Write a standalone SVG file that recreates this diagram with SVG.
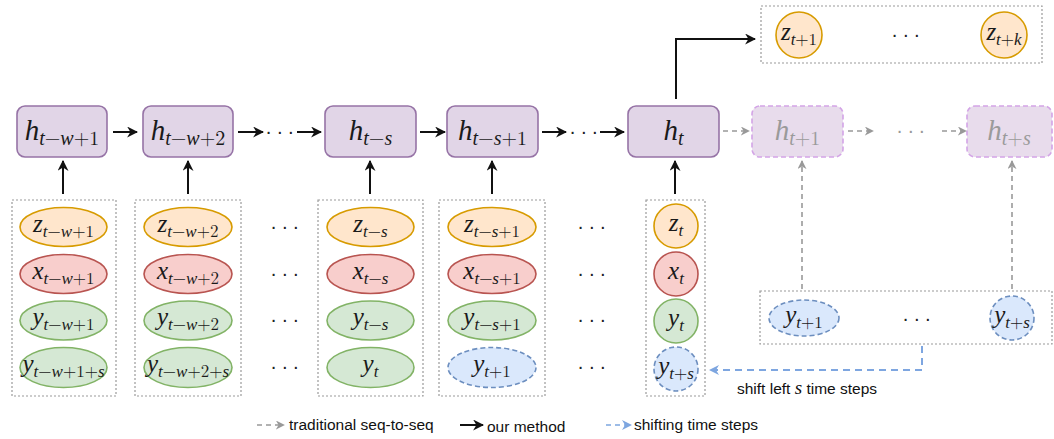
<svg xmlns="http://www.w3.org/2000/svg" width="1054" height="439" viewBox="0 0 1054 439">
<style>
.m{font-family:"Liberation Serif","Times New Roman",serif;font-style:italic;fill:#1a1a1a;text-anchor:middle}
.r{font-family:"Latin Modern Math","Liberation Serif",serif;font-style:normal}
.hb{fill:#e1d5e7;stroke:#9673a6;stroke-width:1.6}
.hd{fill:#e8dcec;stroke:#d3a4e6;stroke-width:1.6;stroke-dasharray:5 3}
.z{fill:#ffe6cc;stroke:#d79b00;stroke-width:1.6}
.x{fill:#f8cecc;stroke:#b85450;stroke-width:1.6}
.y{fill:#d5e8d4;stroke:#82b366;stroke-width:1.6}
.b{fill:#dae8fc;stroke:#6c8ebf;stroke-width:1.6;stroke-dasharray:5 3}
.ct{fill:none;stroke:#9a9a9a;stroke-width:1.2;stroke-dasharray:2 2}
.ba{fill:none;stroke:#111;stroke-width:2;marker-end:url(#ab)}
.ga{fill:none;stroke:#999;stroke-width:1.6;stroke-dasharray:5 4;marker-end:url(#ag)}
.bl{fill:none;stroke:#7ea6e0;stroke-width:2;stroke-dasharray:7 5;marker-end:url(#abl)}
.dots{font-family:"Liberation Sans",Arial,sans-serif;font-size:20px;letter-spacing:4.5px;fill:#222;text-anchor:middle}
.lg{font-family:"Liberation Sans",Arial,sans-serif;font-size:15.5px;fill:#111}
.hm{font-size:29px}
.hs{font-size:20px}
.em{font-size:25px}
.es{font-size:17px}
</style>
<defs>
<marker id="ab" viewBox="0 0 10 10" refX="9" refY="5" markerWidth="11" markerHeight="11" markerUnits="userSpaceOnUse" orient="auto"><path d="M0,0 L10,5 L0,10 L3,5 z" fill="#111"/></marker>
<marker id="ag" viewBox="0 0 10 10" refX="9" refY="5" markerWidth="9" markerHeight="9" markerUnits="userSpaceOnUse" orient="auto"><path d="M0,0 L10,5 L0,10 L3,5 z" fill="#999"/></marker>
<marker id="abl" viewBox="0 0 10 10" refX="9" refY="5" markerWidth="10" markerHeight="10" markerUnits="userSpaceOnUse" orient="auto"><path d="M0,0 L10,5 L0,10 L3,5 z" fill="#7ea6e0"/></marker>
</defs>

<!-- hidden-state nodes -->
<g id="h1"><rect class="hb" x="17" y="106" width="90" height="51" rx="8"/><text class="m" x="62" y="140"><tspan class="hm">h</tspan><tspan class="hs" dy="5">t<tspan class="r">−</tspan>w<tspan class="r">+1</tspan></tspan></text></g>
<g id="h2"><rect class="hb" x="143" y="106" width="90" height="51" rx="8"/><text class="m" x="188" y="140"><tspan class="hm">h</tspan><tspan class="hs" dy="5">t<tspan class="r">−</tspan>w<tspan class="r">+2</tspan></tspan></text></g>
<g id="h3"><rect class="hb" x="325" y="106" width="91" height="51" rx="8"/><text class="m" x="370.5" y="140"><tspan class="hm">h</tspan><tspan class="hs" dy="5">t<tspan class="r">−</tspan>s</tspan></text></g>
<g id="h4"><rect class="hb" x="447" y="106" width="91" height="51" rx="8"/><text class="m" x="492.5" y="140"><tspan class="hm">h</tspan><tspan class="hs" dy="5">t<tspan class="r">−</tspan>s<tspan class="r">+1</tspan></tspan></text></g>
<g id="h5"><rect class="hb" x="628" y="106" width="91" height="51" rx="8"/><text class="m" x="673.5" y="140"><tspan class="hm">h</tspan><tspan class="hs" dy="5">t</tspan></text></g>
<g id="h6"><rect class="hd" x="752" y="106" width="91" height="51" rx="8"/><text class="m" x="797.5" y="140" style="fill:#9a9a9a"><tspan class="hm">h</tspan><tspan class="hs" dy="5">t<tspan class="r">+1</tspan></tspan></text></g>
<g id="h7"><rect class="hd" x="967" y="106" width="85" height="51" rx="8"/><text class="m" x="1009" y="140" style="fill:#9a9a9a"><tspan class="hm">h</tspan><tspan class="hs" dy="5">t<tspan class="r">+</tspan>s</tspan></text></g>

<!-- output nodes -->
<g id="out">
<rect class="ct" x="761" y="6" width="281" height="57"/>
<circle class="z" cx="799" cy="35" r="23"/>
<text class="m" x="799" y="40"><tspan class="em">z</tspan><tspan class="es" dy="5">t<tspan class="r">+1</tspan></tspan></text>
<text class="dots" x="908" y="41">···</text>
<circle class="z" cx="1004" cy="35" r="23"/>
<text class="m" x="1004" y="40"><tspan class="em">z</tspan><tspan class="es" dy="5">t<tspan class="r">+</tspan>k</tspan></text>
</g>

<!-- input columns -->
<g id="col1">
<rect class="ct" x="12" y="200" width="104" height="196"/>
<ellipse class="z" cx="63.5" cy="227" rx="43.5" ry="19.5"/>
<text class="m" x="63.5" y="232"><tspan class="em">z</tspan><tspan class="es" dy="5">t<tspan class="r">−</tspan>w<tspan class="r">+1</tspan></tspan></text>
<ellipse class="x" cx="63.5" cy="274" rx="43.5" ry="19.5"/>
<text class="m" x="63.5" y="279"><tspan class="em">x</tspan><tspan class="es" dy="5">t<tspan class="r">−</tspan>w<tspan class="r">+1</tspan></tspan></text>
<ellipse class="y" cx="63.5" cy="320.5" rx="43.5" ry="19.5"/>
<text class="m" x="63.5" y="325"><tspan class="em">y</tspan><tspan class="es" dy="5">t<tspan class="r">−</tspan>w<tspan class="r">+1</tspan></tspan></text>
<ellipse class="y" cx="63.5" cy="367.5" rx="43.5" ry="20"/>
<text class="m" x="63.5" y="372"><tspan class="em">y</tspan><tspan class="es" dy="5">t<tspan class="r">−</tspan>w<tspan class="r">+1+</tspan>s</tspan></text>
</g>
<g id="col2">
<rect class="ct" x="135" y="200" width="106" height="196"/>
<ellipse class="z" cx="188" cy="227" rx="44" ry="19.5"/>
<text class="m" x="188" y="232"><tspan class="em">z</tspan><tspan class="es" dy="5">t<tspan class="r">−</tspan>w<tspan class="r">+2</tspan></tspan></text>
<ellipse class="x" cx="188" cy="274" rx="44" ry="19.5"/>
<text class="m" x="188" y="279"><tspan class="em">x</tspan><tspan class="es" dy="5">t<tspan class="r">−</tspan>w<tspan class="r">+2</tspan></tspan></text>
<ellipse class="y" cx="188" cy="320.5" rx="44" ry="19.5"/>
<text class="m" x="188" y="325"><tspan class="em">y</tspan><tspan class="es" dy="5">t<tspan class="r">−</tspan>w<tspan class="r">+2</tspan></tspan></text>
<ellipse class="y" cx="188" cy="367.5" rx="44" ry="20"/>
<text class="m" x="188" y="372"><tspan class="em">y</tspan><tspan class="es" dy="5">t<tspan class="r">−</tspan>w<tspan class="r">+2+</tspan>s</tspan></text>
</g>
<g id="col3">
<rect class="ct" x="318" y="200" width="105" height="196"/>
<ellipse class="z" cx="370.5" cy="227" rx="43.5" ry="19.5"/>
<text class="m" x="370.5" y="232"><tspan class="em">z</tspan><tspan class="es" dy="5">t<tspan class="r">−</tspan>s</tspan></text>
<ellipse class="x" cx="370.5" cy="274" rx="43.5" ry="19.5"/>
<text class="m" x="370.5" y="279"><tspan class="em">x</tspan><tspan class="es" dy="5">t<tspan class="r">−</tspan>s</tspan></text>
<ellipse class="y" cx="370.5" cy="320.5" rx="43.5" ry="19.5"/>
<text class="m" x="370.5" y="325"><tspan class="em">y</tspan><tspan class="es" dy="5">t<tspan class="r">−</tspan>s</tspan></text>
<ellipse class="y" cx="370.5" cy="367.5" rx="43.5" ry="20"/>
<text class="m" x="370.5" y="372"><tspan class="em">y</tspan><tspan class="es" dy="5">t</tspan></text>
</g>
<g id="col4">
<rect class="ct" x="439" y="200" width="106" height="196"/>
<ellipse class="z" cx="492" cy="227" rx="44" ry="19.5"/>
<text class="m" x="492" y="232"><tspan class="em">z</tspan><tspan class="es" dy="5">t<tspan class="r">−</tspan>s<tspan class="r">+1</tspan></tspan></text>
<ellipse class="x" cx="492" cy="274" rx="44" ry="19.5"/>
<text class="m" x="492" y="279"><tspan class="em">x</tspan><tspan class="es" dy="5">t<tspan class="r">−</tspan>s<tspan class="r">+1</tspan></tspan></text>
<ellipse class="y" cx="492" cy="320.5" rx="44" ry="19.5"/>
<text class="m" x="492" y="325"><tspan class="em">y</tspan><tspan class="es" dy="5">t<tspan class="r">−</tspan>s<tspan class="r">+1</tspan></tspan></text>
<ellipse class="b" cx="492" cy="367.5" rx="44" ry="20"/>
<text class="m" x="492" y="372"><tspan class="em">y</tspan><tspan class="es" dy="5">t<tspan class="r">+1</tspan></tspan></text>
</g>
<g id="col5">
<rect class="ct" x="646" y="200" width="59" height="196"/>
<circle class="z" cx="676" cy="226" r="22"/>
<text class="m" x="676" y="231"><tspan class="em">z</tspan><tspan class="es" dy="5">t</tspan></text>
<circle class="x" cx="676" cy="274" r="22"/>
<text class="m" x="676" y="279"><tspan class="em">x</tspan><tspan class="es" dy="5">t</tspan></text>
<circle class="y" cx="676" cy="321" r="22"/>
<text class="m" x="676" y="326"><tspan class="em">y</tspan><tspan class="es" dy="5">t</tspan></text>
<circle class="b" cx="676" cy="369" r="22"/>
<text class="m" x="676" y="374"><tspan class="em">y</tspan><tspan class="es" dy="5">t<tspan class="r">+</tspan>s</tspan></text>
</g>
<g id="future">
<rect class="ct" x="760" y="291" width="292" height="53"/>
<ellipse class="b" cx="804" cy="318" rx="35" ry="18"/>
<text class="m" x="804" y="323"><tspan class="em">y</tspan><tspan class="es" dy="5">t<tspan class="r">+1</tspan></tspan></text>
<text class="dots" x="919" y="325">···</text>
<circle class="b" cx="1012" cy="318" r="22"/>
<text class="m" x="1012" y="323"><tspan class="em">y</tspan><tspan class="es" dy="5">t<tspan class="r">+</tspan>s</tspan></text>
</g>
<g id="gaps">
<text class="dots" x="287" y="233">···</text>
<text class="dots" x="287" y="280">···</text>
<text class="dots" x="287" y="326">···</text>
<text class="dots" x="287" y="373">···</text>
<text class="dots" x="594" y="233">···</text>
<text class="dots" x="594" y="280">···</text>
<text class="dots" x="594" y="326">···</text>
<text class="dots" x="594" y="373">···</text>
</g>

<!-- connectors -->
<g id="connectors">
<path class="ba" d="M113,132 H137"/>
<path class="ba" d="M238,132 H263"/>
<text class="dots" x="282" y="138">···</text>
<path class="ba" d="M297,132 H321"/>
<path class="ba" d="M420,132 H445"/>
<path class="ba" d="M542,132 H566"/>
<text class="dots" x="586" y="138">···</text>
<path class="ba" d="M600,132 H624"/>
<path class="ba" d="M63,194 V161"/>
<path class="ba" d="M188,194 V161"/>
<path class="ba" d="M370,194 V161"/>
<path class="ba" d="M492,194 V161"/>
<path class="ba" d="M675,194 V161"/>
<path class="ba" d="M676,99 V39 H755"/>
<path class="ga" d="M723,131 H749"/>
<path class="ga" d="M848,131 H873"/>
<text class="dots" x="913" y="137" style="fill:#999">···</text>
<path class="ga" d="M942,131 H966"/>
<path class="ga" d="M802,289 V161"/>
<path class="ga" d="M1012,289 V161"/>
<path class="bl" d="M922,346 V370 H710"/>
<text class="lg" x="737" y="394">shift left <tspan style="font-family:'Liberation Serif',serif;font-style:italic;font-size:19px">s</tspan> time steps</text>
</g>

<!-- legend -->
<g id="legend">
<path class="ga" d="M257,425 H284"/>
<text class="lg" x="289" y="430">traditional seq-to-seq</text>
<path class="ba" d="M460,425 H483"/>
<text class="lg" x="487" y="432">our method</text>
<path class="bl" d="M606,425 H631" style="stroke-width:1.6;stroke-dasharray:5 4"/>
<text class="lg" x="634" y="430">shifting time steps</text>
</g>
</svg>
